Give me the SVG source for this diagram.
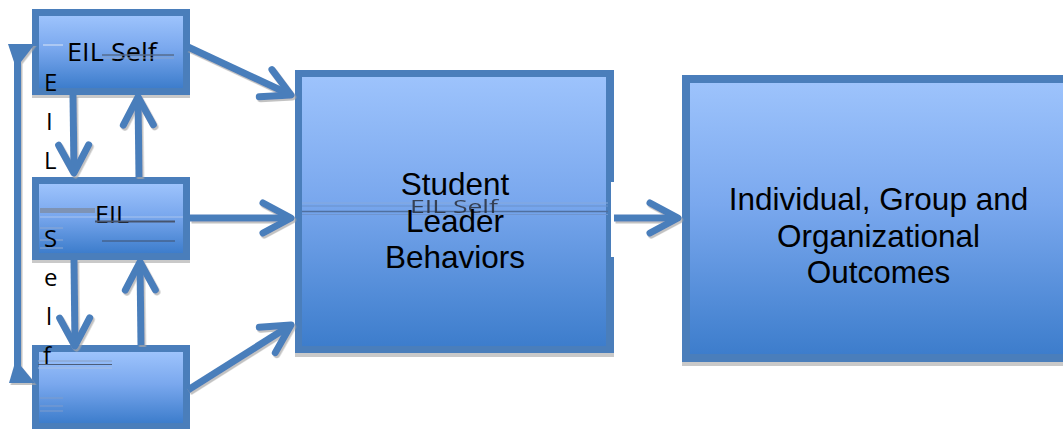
<svg xmlns="http://www.w3.org/2000/svg" width="1063" height="429" viewBox="0 0 1063 429">
  <defs>
    <linearGradient id="fillBlue" x1="0" y1="0" x2="0" y2="1">
      <stop offset="0" stop-color="#9dc3fc"/>
      <stop offset="0.45" stop-color="#7aa8ee"/>
      <stop offset="1" stop-color="#3d7dcc"/>
    </linearGradient>
    <marker id="chev" markerUnits="userSpaceOnUse" markerWidth="44" markerHeight="44" viewBox="-38 -22 44 44" refX="0" refY="0" orient="auto" overflow="visible">
      <path d="M-28,-15 L0,0 L-28,15" fill="none" stroke="#4a7ebb" stroke-width="7" stroke-linecap="round" stroke-linejoin="round"/>
    </marker>
    <filter id="soft" x="-10%" y="-10%" width="130%" height="130%">
      <feDropShadow dx="1.5" dy="2" stdDeviation="0.6" flood-color="#a8a8a8" flood-opacity="0.7"/>
    </filter>
  </defs>
  <style>
    .frame { fill: #4a7ebb; }
    .inner { fill: url(#fillBlue); }
    .shade { fill: #c9c9c9; }
    .conn { fill: none; stroke: #4a7ebb; stroke-width: 7; }
    .big { font-family: "Liberation Sans", Arial, sans-serif; font-size: 31.5px; fill: #000; text-anchor: middle; }
    .small { font-family: "Open Sans", "Noto Sans", sans-serif; fill: #000; }
    .ghost { font-family: "Open Sans", "Noto Sans", sans-serif; font-size: 19px; fill: #2a2f3a; opacity: 0.85; }
  </style>

  <rect width="1063" height="429" fill="#ffffff"/>

  <!-- top-left node -->
  <g id="node-eil-self">
    <rect class="shade" x="32" y="95" width="158" height="3"/>
    <rect class="frame" x="32" y="9" width="158" height="86"/>
    <rect class="inner" x="39" y="16" width="144" height="72"/>
    <line x1="43" y1="45" x2="63" y2="45" stroke="#bcd2f4" stroke-width="1.5"/>
    <text class="small" x="67" y="61" font-size="25" textLength="90" lengthAdjust="spacingAndGlyphs">EIL Self</text>
    <line x1="102" y1="55" x2="174" y2="55" stroke="#566c8e" stroke-width="1.5"/>
    <line x1="102" y1="58" x2="174" y2="58" stroke="#8aa4cc" stroke-width="1"/>
  </g>

  <!-- middle-left node -->
  <g id="node-eil">
    <rect class="shade" x="32" y="260" width="158" height="3"/>
    <rect class="frame" x="32" y="177" width="158" height="83"/>
    <rect class="inner" x="39" y="184" width="144" height="69"/>
    <rect x="40" y="208" width="55" height="5" fill="#7e93b4"/>
    <line x1="40" y1="217" x2="183" y2="217" stroke="#a9c4ee" stroke-width="1"/>
    <text class="small" x="95" y="223" font-size="24" textLength="34" lengthAdjust="spacingAndGlyphs">EIL</text>
    <line x1="95" y1="221.5" x2="175" y2="221.5" stroke="#46546e" stroke-width="2"/>
    <line x1="102" y1="241" x2="175" y2="241" stroke="#3e4e6a" stroke-width="1"/>
    <line x1="40" y1="228" x2="63" y2="228" stroke="#8fa9d2" stroke-width="1"/>
    <line x1="40" y1="240" x2="63" y2="240" stroke="#8fa9d2" stroke-width="1"/>
    <line x1="40" y1="248" x2="63" y2="248" stroke="#8fa9d2" stroke-width="1"/>
  </g>

  <!-- bottom-left node -->
  <g id="node-blank">
    <rect class="frame" x="32" y="345" width="158" height="84"/>
    <rect class="inner" x="39" y="352" width="144" height="71"/>
    <line x1="38" y1="361" x2="112" y2="361" stroke="#8aa0c0" stroke-width="1"/>
    <line x1="38" y1="364.5" x2="112" y2="364.5" stroke="#4d5d78" stroke-width="1.2"/>
    <line x1="38" y1="368" x2="112" y2="368" stroke="#a9bfe2" stroke-width="1"/>
    <line x1="40" y1="398" x2="63" y2="398" stroke="#7f9ccc" stroke-width="1"/>
    <line x1="40" y1="406" x2="63" y2="406" stroke="#7f9ccc" stroke-width="1"/>
    <line x1="40" y1="411" x2="63" y2="411" stroke="#7f9ccc" stroke-width="1"/>
  </g>

  <!-- centre node -->
  <g id="node-student-leader">
    <rect class="shade" x="295" y="353" width="319" height="4"/>
    <rect class="frame" x="295" y="70" width="319" height="283"/>
    <rect class="inner" x="302" y="77" width="304" height="269"/>
    <rect x="611" y="182" width="4" height="75" fill="#ffffff"/>
    <line x1="302" y1="203" x2="608" y2="203" stroke="#86a9dc" stroke-width="1"/>
    <line x1="302" y1="206" x2="608" y2="206" stroke="#6b92cc" stroke-width="1"/>
    <line x1="302" y1="211.5" x2="608" y2="211.5" stroke="#50709f" stroke-width="1.5"/>
    <line x1="302" y1="214.5" x2="608" y2="214.5" stroke="#6f95cf" stroke-width="1"/>
    <text class="ghost" x="410" y="213" textLength="88" lengthAdjust="spacingAndGlyphs">EIL Self</text>
    <text class="big" x="455" y="195">Student</text>
    <text class="big" x="455" y="232">Leader</text>
    <text class="big" x="455" y="268">Behaviors</text>
  </g>

  <!-- right node -->
  <g id="node-outcomes">
    <rect class="shade" x="682" y="362" width="390" height="4"/>
    <rect class="frame" x="682" y="75" width="390" height="287"/>
    <rect class="inner" x="690" y="83" width="382" height="271"/>
    <text class="big" x="878.5" y="210">Individual, Group and</text>
    <text class="big" x="878.5" y="247">Organizational</text>
    <text class="big" x="878.5" y="283">Outcomes</text>
  </g>

  <!-- connectors -->
  <g id="connectors" filter="url(#soft)">
    <path class="conn" d="M188,47 L291,95" marker-end="url(#chev)"/>
    <path class="conn" d="M190,218 L291,218" marker-end="url(#chev)"/>
    <path class="conn" d="M188,390 L291,325" marker-end="url(#chev)"/>
    <path class="conn" d="M614,218 L678,218" marker-end="url(#chev)"/>
    <path class="conn" d="M73,95 L74,173" marker-end="url(#chev)"/>
    <path class="conn" d="M139,177 L138,97" marker-end="url(#chev)"/>
    <path class="conn" d="M74,260 L75,346" marker-end="url(#chev)"/>
    <path class="conn" d="M141,345 L140,262" marker-end="url(#chev)"/>
    <!-- loop on the left joining the top and bottom nodes -->
    <path class="conn" d="M17.5,58 L17.5,370"/>
    <polygon points="8,44 35,44 21,62 14,62" fill="#4a7ebb"/>
    <polygon points="14,366 21,366 35,383 9,383" fill="#4a7ebb"/>
  </g>

  <!-- stacked letters beside the left column -->
  <g id="side-label" class="small" font-size="24">
    <text x="44" y="91">E</text>
    <text x="46" y="130">I</text>
    <text x="44" y="169">L</text>
    <text x="44" y="247">S</text>
    <text x="44" y="286">e</text>
    <text x="46" y="325">l</text>
    <text x="43" y="364">f</text>
  </g>
</svg>
